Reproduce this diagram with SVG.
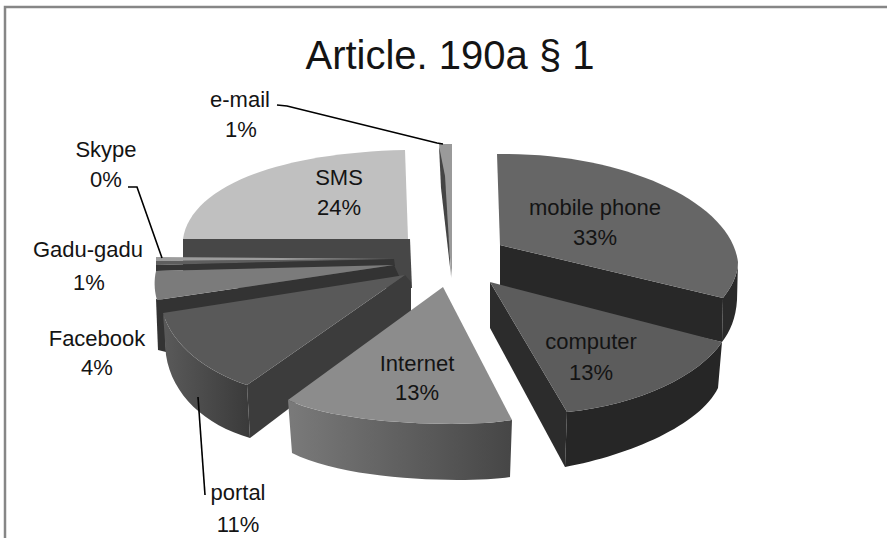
<svg xmlns="http://www.w3.org/2000/svg" width="887" height="538" viewBox="0 0 887 538">
<defs>
<style>
text{font-family:"Liberation Sans",Arial,sans-serif;fill:#141414;text-anchor:middle}
.lbl{font-size:22px}
.title{font-size:40px}
.lead{fill:none;stroke:#000;stroke-width:1.6}
</style>
<linearGradient id="gInt" x1="0" y1="0" x2="1" y2="0">
<stop offset="0" stop-color="#7a7a7a"/><stop offset="1" stop-color="#464646"/>
</linearGradient>
<linearGradient id="gPor" x1="0" y1="0" x2="1" y2="0">
<stop offset="0" stop-color="#5a5a5a"/><stop offset="1" stop-color="#3a3a3a"/>
</linearGradient>
</defs>
<rect x="0" y="0" width="887" height="538" fill="#fff"/>
<path d="M5,538 L5,7 L887,7" fill="none" stroke="#868686" stroke-width="2.5"/>
<text class="title" x="450" y="69">Article. 190a § 1</text>

<g id="sms">
<path d="M183,239 L410,239 L412,288 L183,288 Z" fill="#474747"/>
<path d="M183,239 C190,190 270,153 405,150 L408,239 Z" fill="#c0c0c0"/>
<text class="lbl" x="339" y="185">SMS</text>
<text class="lbl" x="339" y="215">24%</text>
</g>

<g id="email">
<path d="M439,144 L452,144 L452,278 Z" fill="#9a9a9a"/>
<path d="M439,146 L441,188 L451,276 L445,176 Z" fill="#444"/>
<text class="lbl" x="240" y="107">e-mail</text>
<text class="lbl" x="241" y="137">1%</text>
</g>

<g id="mobile">
<path d="M723,298 C731,288 738,275 738,262 L737,300 C736,318 730,332 722,342 Z" fill="#2a2a2a"/>
<path d="M500,245 L723,298 L722,342 L500,292 Z" fill="#282828"/>
<path d="M497,154 C620,152 730,200 738,262 C738,275 731,288 723,298 L500,245 Z" fill="#666"/>
<text class="lbl" x="595" y="215">mobile phone</text>
<text class="lbl" x="595" y="245">33%</text>
</g>

<g id="skype">
<path d="M156,257 L394,259 L156,261 Z" fill="#9c9c9c"/>
<text class="lbl" x="106" y="157">Skype</text>
<text class="lbl" x="106" y="187">0%</text>
</g>

<g id="gadugadu">
<path d="M156,261 L394,259 L156,265 Z" fill="#5e5e5e"/>
<path d="M156,265 L394,259 L395,266 L156,271 Z" fill="#353535"/>
<text class="lbl" x="88" y="257">Gadu-gadu</text>
<text class="lbl" x="89" y="290">1%</text>
</g>

<g id="facebook">
<path d="M156,299 L164,300 L166,352 L158,350 Z" fill="#333"/>
<path d="M157,300 L394,265 L400,278 L160,317 Z" fill="#333"/>
<path d="M156,271 L394,265 L157,300 C154,290 154,280 156,271 Z" fill="#7b7b7b"/>
<text class="lbl" x="97" y="346">Facebook</text>
<text class="lbl" x="97" y="375">4%</text>
</g>

<g id="portal">
<path d="M163,313 C172,345 207,372 247,385 L250,438 C205,425 172,395 166,355 Z" fill="url(#gPor)"/>
<path d="M405,275 L411,282 L411,316 L250,438 L247,385 Z" fill="#3c3c3c"/>
<path d="M163,313 L405,275 L247,385 C207,372 172,345 163,313 Z" fill="#595959"/>
<text class="lbl" x="238" y="500">portal</text>
<text class="lbl" x="238" y="532">11%</text>
</g>

<g id="computer">
<path d="M567,412 C640,405 700,375 722,342 L718,388 C700,425 630,455 565,467 Z" fill="#262626"/>
<path d="M490,282 L567,412 L565,467 L490,328 Z" fill="#2c2c2c"/>
<path d="M490,282 L722,342 C700,375 640,405 567,412 Z" fill="#5c5c5c"/>
<text class="lbl" x="591" y="349">computer</text>
<text class="lbl" x="591" y="380">13%</text>
</g>

<g id="internet">
<path d="M288,400 C340,425 470,428 512,420 L510,477 C470,483 350,482 292,453 Z" fill="url(#gInt)"/>
<path d="M443,287 L512,420 C470,428 340,425 288,400 Z" fill="#8c8c8c"/>
<text class="lbl" x="417" y="371">Internet</text>
<text class="lbl" x="417" y="400">13%</text>
</g>

<g id="connectors">
<path class="lead" d="M277,105 L287,106 L437,143 L443,144"/>
<path class="lead" d="M128,187 L137,187 L162,258"/>
<path class="lead" d="M198,397 L205,495"/>
</g>
</svg>
